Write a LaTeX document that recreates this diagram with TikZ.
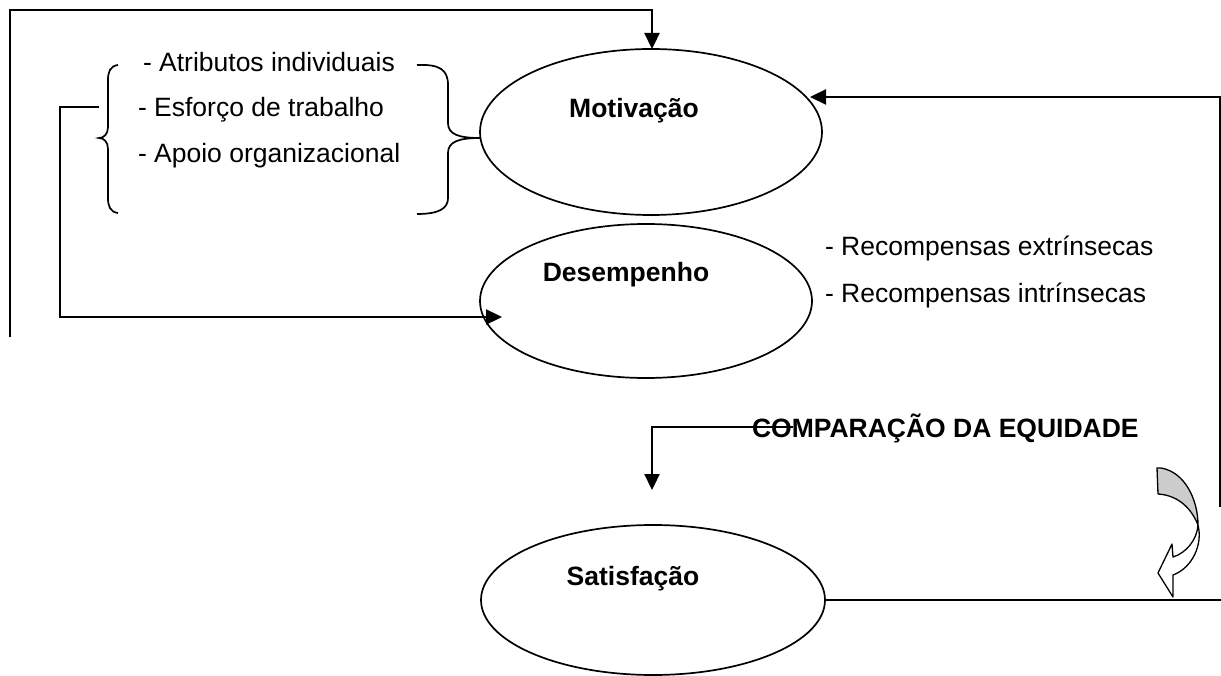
\documentclass[tikz,border=0pt]{standalone}
\usepackage{fontspec}
\setmainfont{Liberation Sans}
\usetikzlibrary{shapes.geometric,arrows.meta}
\begin{document}
\begin{tikzpicture}[x=1pt,y=-1pt,
  every node/.style={inner sep=0pt,outer sep=0pt,font=\fontsize{26.5}{30}\selectfont},
  oval/.style={draw,ellipse,line width=1.7pt},
  conn/.style={line width=2.3pt},
  thin conn/.style={line width=1.4pt},
  arr/.style={-{Triangle[length=16pt,width=15pt]}},
  brace/.style={line width=1.7pt},
  item/.style={anchor=base west},
  title/.style={anchor=base,font=\fontsize{26.5}{30}\selectfont\bfseries}]
\useasboundingbox (0,0) rectangle (1221,676);
\fill[white] (0,0) rectangle (1221,676);

% ellipses
\node[oval,minimum width=342pt,minimum height=166pt] (mot) at (651,132) {};
\node[oval,minimum width=332pt,minimum height=154pt] (des) at (646,301) {};
\node[oval,minimum width=344pt,minimum height=150pt] (sat) at (653,600) {};

% titles
\node[title] (motl) at (634,118) {Motivação};
\node[title] (desl) at (626,282) {Desempenho};
\node[title] (satl) at (633,585) {Satisfação};

% items
\node[item] (a1) at (143,72) {- Atributos individuais};
\node[item] (a2) at (138,117) {- Esforço de trabalho};
\node[item] (a3) at (138,163) {- Apoio organizacional};
\node[item] (r1) at (825,256) {- Recompensas extrínsecas};
\node[item] (r2) at (825,303) {- Recompensas intrínsecas};

% braces
\draw[brace] (118,65) .. controls (110,66) and (108,72) .. (108,80) -- (108,127)
  .. controls (108,134) and (104,138) .. (99,138)
  .. controls (104,138) and (108,142) .. (108,149) -- (108,198)
  .. controls (108,206) and (110,212) .. (118,213);
\coordinate (rbtip) at (480,138);
\draw[brace] (417,65) .. controls (440,64) and (448,70) .. (448,85) -- (448,123)
  .. controls (448,134) and (458,138) .. (rbtip)
  .. controls (458,138) and (448,142) .. (448,153) -- (448,198)
  .. controls (448,208) and (440,214) .. (417,214);

% top frame into Motivação
\coordinate (tl0) at (10,337);
\draw[conn,arr] (tl0) |- (652,10) -- (mot.north -| 652,0);

% stub from left brace into Desempenho
\coordinate (st0) at (99,107);
\coordinate (st1) at (502,317);
\draw[conn,arr] (st0) -- (60,107) |- (st1);

% right feedback into Motivação
\coordinate (rv0) at (1220,507);
\coordinate (rh1) at (1178,97);
\coordinate (rh2) at (810,97);
\draw[thin conn] (rv0) -- (1220,97) -- (rh1);
\draw[conn,arr] (rh1) -- (rh2);

% comparação
\node[anchor=base west,font=\fontsize{26.5}{30}\selectfont\bfseries] (cmp) at (752,437) {COMPARAÇÃO DA EQUIDADE};
\coordinate (cq0) at (793,427);
\coordinate (cq1) at (652,490);
\draw[conn,arr] (cq0) -- (652,427) -- (cq1);

% satisfação out
\coordinate (se1) at (1221,600);
\draw[conn] (sat.east) -- (se1);

% curved arrow
\draw[line width=1.3pt,fill=white,line join=round]
  (1198,525) .. controls (1203,545) and (1192,568) .. (1173,575)
  -- (1173,597) -- (1158,573) -- (1172,544) -- (1173,557)
  .. controls (1186,553) and (1197,540) .. (1198,525) -- cycle;
\draw[line width=1.3pt,fill={rgb,255:red,204;green,204;blue,204},line join=round]
  (1157,468) -- (1161,468) .. controls (1185,472) and (1198,500) .. (1198,525)
  .. controls (1190,505) and (1175,495) .. (1158,494) -- cycle;
\end{tikzpicture}
\end{document}
